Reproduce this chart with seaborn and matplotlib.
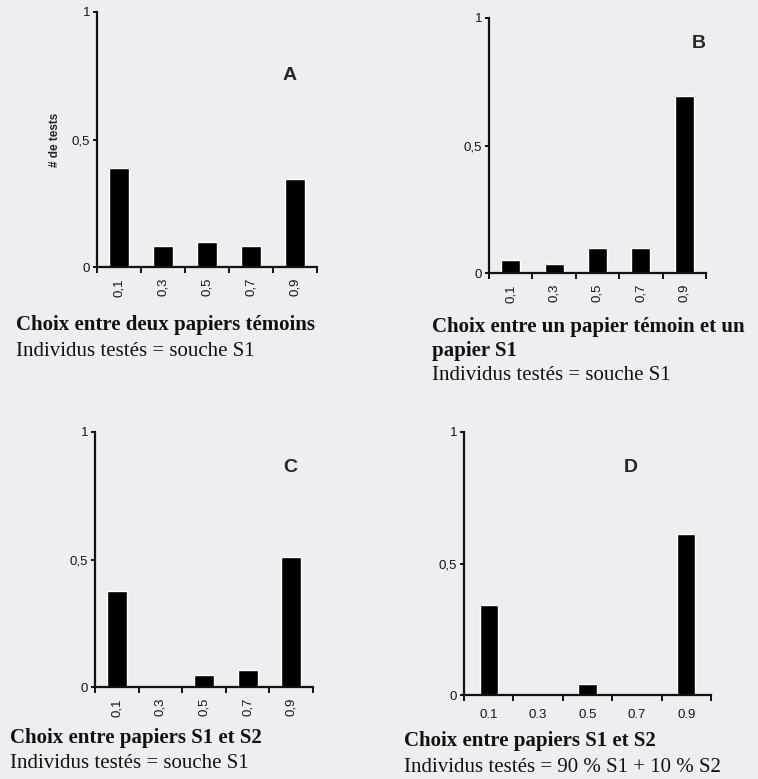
import matplotlib
matplotlib.use("Agg")
import matplotlib.pyplot as plt
import seaborn as sns
import pandas as pd

sns.set_style("white")
plt.rcParams['font.family'] = ['Liberation Sans', 'DejaVu Sans']

# ---- data ----
categories_comma = ["0,1", "0,3", "0,5", "0,7", "0,9"]
categories_dot = ["0.1", "0.3", "0.5", "0.7", "0.9"]
values_A = [0.39, 0.082, 0.10, 0.081, 0.345]
values_B = [0.05, 0.037, 0.10, 0.10, 0.696]
values_C = [0.375, 0.0, 0.047, 0.068, 0.51]
values_D = [0.341, 0.0, 0.042, 0.0, 0.613]
ytick_values = [0, 0.5, 1]
ytick_labels = ["0", "0,5", "1"]

W, H = 758, 779
BG = "#eceef1"
fig = plt.figure(figsize=(W / 100, H / 100), dpi=100, facecolor=BG)


def add_ax(left, right, top, bottom):
    return fig.add_axes([left / W, 1 - bottom / H, (right - left) / W, (bottom - top) / H])


def ftext(x, y, s, **kw):
    fig.text(x / W, 1 - y / H, s, **kw)


def draw_panel(ax, labels, values, width, rotate):
    df = pd.DataFrame({"cat": labels, "val": values})
    sns.barplot(data=df, x="cat", y="val", color="black", width=width,
                saturation=1, ax=ax, order=labels)
    ax.set_facecolor("none")
    ax.set_xlim(-0.5, 4.5)
    ax.set_ylim(0, 1)
    ax.set_xlabel("")
    ax.set_ylabel("")
    for s in ("top", "right"):
        ax.spines[s].set_visible(False)
    for s in ("left", "bottom"):
        ax.spines[s].set_linewidth(1.6)
        ax.spines[s].set_color("#111111")
    # major ticks at category boundaries, labels at centers
    ax.set_xticks([i - 0.5 for i in range(len(labels) + 1)])
    ax.set_xticklabels([])
    ax.set_xticks(range(len(labels)), minor=True)
    ax.set_xticklabels(labels, minor=True, rotation=90 if rotate else 0,
                       fontsize=9.5, color="#151515")
    ax.tick_params(axis="x", which="major", direction="out", length=4, width=1.4,
                   color="#111111", bottom=True)
    ax.tick_params(axis="x", which="minor", length=0, pad=10 if not rotate else 8)
    ax.set_yticks(ytick_values)
    ax.set_yticklabels(ytick_labels, fontsize=9.5, color="#151515")
    ax.tick_params(axis="y", direction="out", length=3, width=1.4, color="#111111",
                   left=True, pad=2)


axA = add_ax(97, 317, 12, 267)
draw_panel(axA, categories_comma, values_A, 0.46, True)
axA.set_ylabel("# de tests", fontsize=8.5, fontweight="bold", labelpad=8)

axB = add_ax(489, 706, 18, 273)
draw_panel(axB, categories_comma, values_B, 0.44, True)

axC = add_ax(95, 313, 432, 687)
draw_panel(axC, categories_comma, values_C, 0.46, True)

axD = add_ax(464, 711, 432, 695)
draw_panel(axD, categories_dot, values_D, 0.37, False)

# panel letters
for x, y, s in [(290, 75, "A"), (699, 43, "B"), (290, 468, "C"), (631, 467, "D")]:
    ftext(x, y, s, fontsize=14, fontweight="bold", ha="center", va="center",
          family=['Liberation Sans'])

serif = ['Liberation Serif', 'DejaVu Serif']
TS = 15
ftext(16, 325, "Choix entre deux papiers témoins", fontsize=TS, fontweight="bold",
      va="center", family=serif, color="#111111")
ftext(16, 351, "Individus testés = souche S1", fontsize=TS, va="center",
      family=serif, color="#111111")

ftext(432, 327, "Choix entre un papier témoin et un", fontsize=TS, fontweight="bold",
      va="center", family=serif, color="#111111")
ftext(432, 351, "papier S1", fontsize=TS, fontweight="bold", va="center",
      family=serif, color="#111111")
ftext(432, 376, "Individus testés = souche S1", fontsize=TS, va="center",
      family=serif, color="#111111")

ftext(10, 738, "Choix entre papiers S1 et S2", fontsize=TS, fontweight="bold",
      va="center", family=serif, color="#111111")
ftext(10, 764, "Individus testés = souche S1", fontsize=TS, va="center",
      family=serif, color="#111111")

ftext(404, 741, "Choix entre papiers S1 et S2", fontsize=TS, fontweight="bold",
      va="center", family=serif, color="#111111")
ftext(404, 767, "Individus testés = 90 % S1 + 10 % S2", fontsize=TS, va="center",
      family=serif, color="#111111")

fig.savefig("out.png", dpi=100, facecolor=BG)
